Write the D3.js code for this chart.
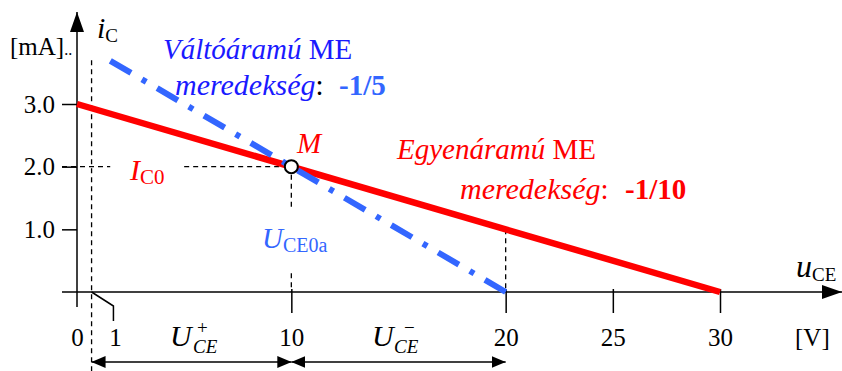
<!DOCTYPE html>
<html>
<head>
<meta charset="utf-8">
<script src="https://cdn.jsdelivr.net/npm/d3@7"></script>
<style>
  body { margin: 0; background: #fff; }
  svg { display: block; font-family: "Liberation Serif", "Times New Roman", serif; }
</style>
</head>
<body>
<svg id="chart" width="842" height="371"></svg>
<script>
// munkaegyenesek (u_CE [V], i_C [mA])
const dcLine = [[0, 3], [30, 0]];        // egyenáramú ME, meredekség -1/10
const acLine = [[20, 0], [1.55, 3.69]];  // váltóáramú ME, meredekség -1/5
const qPoint = [10, 2];                  // M munkapont
const satU = 0.68;                       // U_CE,sat szaggatott vonal
const satLabelU = 1.7;                   // "1" felirat helye
const xTicks = [0, 10, 20, 25, 30];
const xTickLabels = ["0", "10", "20", "25", "30"];
const yTicks = [1, 2, 3];
const yTickLabels = ["1.0", "2.0", "3.0"];
const dims = [[satU, 10], [10, 20]];     // U_CE+ , U_CE-

const red = "#ff0000", blue = "#3366ff", textBlue = "#1a1aff";
const tickFont = 25, tickBase = 346;

const svg = d3.select("#chart");
const x = d3.scaleLinear().domain([0, 30]).range([77, 720]);
const y = d3.scaleLinear().domain([0, 3]).range([292, 104]);

const defs = svg.append("defs");
defs.append("marker").attr("id", "arr")
    .attr("viewBox", "0 0 14 12").attr("refX", 14).attr("refY", 6)
    .attr("markerWidth", 14).attr("markerHeight", 12)
    .attr("markerUnits", "userSpaceOnUse").attr("orient", "auto-start-reverse")
  .append("path").attr("d", "M0,0L14,6L0,12Z").attr("fill", "#000");
defs.append("marker").attr("id", "axArr")
    .attr("viewBox", "0 0 20 14").attr("refX", 20).attr("refY", 7)
    .attr("markerWidth", 20).attr("markerHeight", 14)
    .attr("markerUnits", "userSpaceOnUse").attr("orient", "auto")
  .append("path").attr("d", "M0,0L20,7L0,14Z").attr("fill", "#000");

// tengelyek
svg.append("line")
    .attr("x1", x(0) - 15).attr("x2", 842).attr("y1", y(0)).attr("y2", y(0))
    .attr("stroke", "#000").attr("stroke-width", 1.5).attr("marker-end", "url(#axArr)");
svg.append("line")
    .attr("x1", x(0)).attr("x2", x(0)).attr("y1", y(0) + 15).attr("y2", 12)
    .attr("stroke", "#000").attr("stroke-width", 1.5).attr("marker-end", "url(#axArr)");

const xAxis = svg.append("g")
    .attr("transform", `translate(0,${y(0) - 3})`)
    .call(d3.axisBottom(x).tickValues(xTicks)
        .tickFormat((d, i) => xTickLabels[i]).tickSize(24));
xAxis.select(".domain").remove();
xAxis.selectAll(".tick line").attr("stroke-width", 1.5)
    .filter(d => d === 0).remove();
xAxis.selectAll(".tick text").attr("font-family", "Liberation Serif")
    .attr("font-size", tickFont).attr("fill", "#000")
    .attr("y", tickBase - (y(0) - 3)).attr("dy", null);

const yAxis = svg.append("g")
    .attr("transform", `translate(${x(0)},0)`)
    .call(d3.axisLeft(y).tickValues(yTicks)
        .tickFormat((d, i) => yTickLabels[i]).tickSize(15).tickPadding(7));
yAxis.select(".domain").remove();
yAxis.selectAll(".tick line").attr("stroke-width", 1.5);
yAxis.selectAll(".tick text").attr("font-family", "Liberation Serif")
    .attr("font-size", tickFont).attr("fill", "#000");

// "1" tick megtörve
svg.append("path")
    .attr("d", `M${x(satU)},${y(0)}L${x(satLabelU)},${y(0) + 14}L${x(satLabelU)},${y(0) + 29}`)
    .attr("fill", "none").attr("stroke", "#000").attr("stroke-width", 1.5);
svg.append("text").attr("x", x(satLabelU) + 2).attr("y", tickBase)
    .attr("text-anchor", "middle").attr("font-size", tickFont).text("1");
svg.append("text").attr("x", 795).attr("y", tickBase).attr("font-size", tickFont).text("[V]");

// szaggatott segédvonalak
const dashed = [
  [[satU, 3.7], [satU, -1.26]],
  [[-0.7, 2], [1.55, 2]],
  [[5, 2], qPoint],
  [[10, 1.87], [10, 1.3]],
  [[10, 0.3], [10, 0]],
  [[20, 1], [20, 0]]
];
svg.append("g").selectAll("line").data(dashed).join("line")
    .attr("x1", d => x(d[0][0])).attr("y1", d => y(d[0][1]))
    .attr("x2", d => x(d[1][0])).attr("y2", d => y(d[1][1]))
    .attr("stroke", "#000").attr("stroke-width", 1.3).attr("stroke-dasharray", "5,4");

// munkaegyenesek
const line = d3.line().x(d => x(d[0])).y(d => y(d[1]));
svg.append("path").datum(dcLine).attr("d", line)
    .attr("fill", "none").attr("stroke", red).attr("stroke-width", 6.5);
svg.append("path").datum(acLine).attr("d", line)
    .attr("fill", "none").attr("stroke", blue).attr("stroke-width", 6)
    .attr("stroke-dasharray", "24,12.6,5,12.65");

svg.append("circle").attr("cx", x(qPoint[0])).attr("cy", y(qPoint[1])).attr("r", 6.5)
    .attr("fill", "#fff").attr("stroke", "#000").attr("stroke-width", 2);

// méretnyilak
svg.append("g").selectAll("line").data(dims).join("line")
    .attr("x1", d => x(d[0])).attr("x2", d => x(d[1]))
    .attr("y1", 362).attr("y2", 362)
    .attr("stroke", "#000").attr("stroke-width", 1.5)
    .attr("marker-start", "url(#arr)").attr("marker-end", "url(#arr)");

// feliratok
function label(parts, px, py, color) {
  const t = svg.append("text").attr("x", px).attr("y", py).attr("fill", color);
  parts.forEach(p => {
    const s = t.append("tspan").text(p.t).attr("font-size", p.s || 29);
    if (p.i) s.attr("font-style", "italic");
    if (p.b) s.attr("font-weight", "bold");
    if (p.c) s.attr("fill", p.c);
    if (p.x !== undefined) s.attr("x", p.x);
    if (p.y !== undefined) s.attr("y", p.y);
  });
  return t;
}

label([{t: "[mA]", s: 25}, {t: "..", s: 16}], 10, 55, "#000");
label([{t: "i", i: 1, s: 30}, {t: "C", s: 19, y: 42}], 97, 38, "#000");
label([{t: "u", i: 1, s: 32}, {t: "CE", s: 19, y: 281}], 796, 277, "#000");

label([{t: "Váltóáramú", i: 1}, {t: " ME"}], 163, 59, textBlue);
label([{t: "meredekség", i: 1, s: 30}, {t: ":", c: "#000"}, {t: "-1/5", b: 1, c: blue, x: 339}], 175, 95, textBlue);

label([{t: "Egyenáramú", i: 1}, {t: " ME"}], 397, 159, red);
label([{t: "meredekség", i: 1, s: 30}, {t: ":"}, {t: "-1/10", b: 1, x: 625}], 460, 199, red);

label([{t: "M", i: 1}], 297, 153, red);
label([{t: "I", i: 1, s: 30}, {t: "C0", s: 21, y: 184}], 130, 180, red);
label([{t: "U", i: 1}, {t: "CE0a", s: 20, y: 252}], 262, 248, blue);

label([{t: "U", i: 1, s: 30}, {t: "+", s: 19, x: 197, y: 334}, {t: "CE", i: 1, s: 19, x: 193, y: 353}], 170, 346, "#000");
label([{t: "U", i: 1, s: 30}, {t: "\u2212", s: 19, x: 404, y: 334}, {t: "CE", i: 1, s: 19, x: 394, y: 353}], 372, 346, "#000");
</script>
</body>
</html>
